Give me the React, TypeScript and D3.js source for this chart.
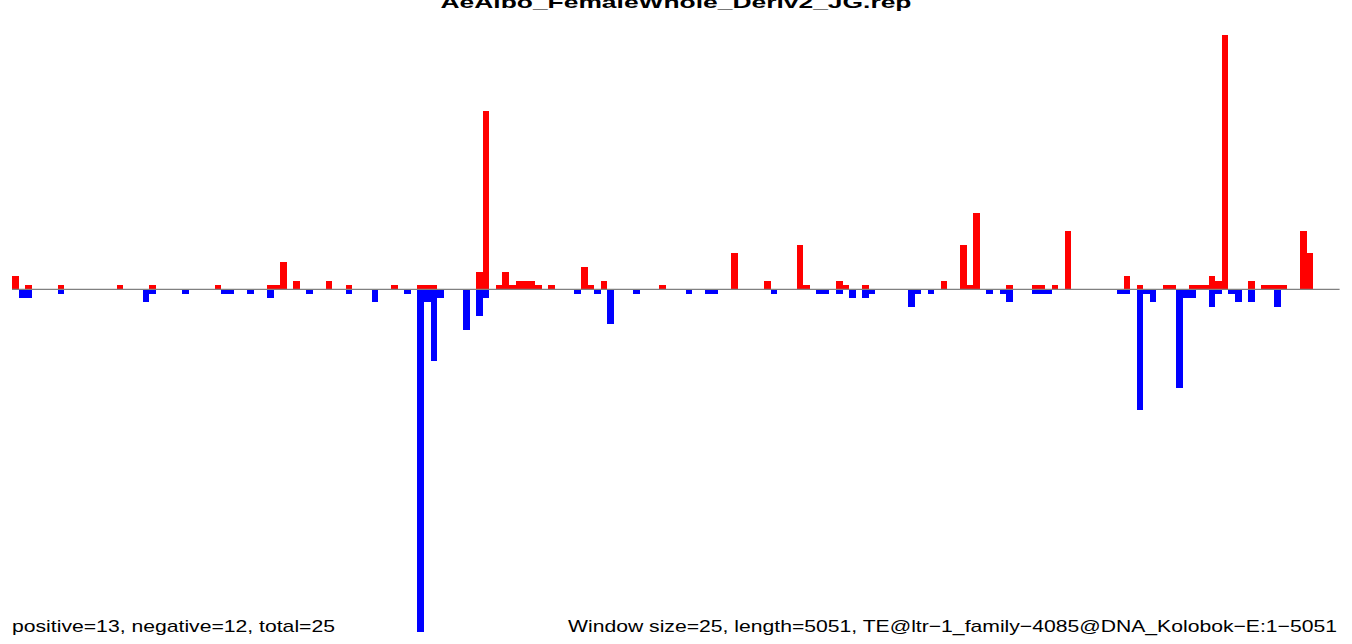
import React from "react";
import * as d3 from "d3";

const title = "AeAlbo_FemaleWhole_Deriv2_JG.rep";
const leftNote = "positive=13, negative=12, total=25";
const rightNote = "Window size=25, length=5051, TE@ltr\u22121_family\u22124085@DNA_Kolobok\u2212E:1\u22125051";

const windowSize = 25;
const seqLength = 5051;

// positive (red) windows: bin index and value
const posBins = [0, 2, 7, 16, 21, 31, 39, 40, 41, 43, 48, 51, 58, 62, 63, 64, 71, 72, 74, 75, 76, 77, 78, 79, 80, 82, 87, 88, 90, 99, 110, 115, 120, 121, 126, 127, 130, 142, 145, 146, 147, 152, 156, 157, 159, 161, 170, 172, 176, 177, 180, 181, 182, 183, 184, 185, 189, 191, 192, 193, 194, 197, 198];
const posVals = [3, 1, 1, 1, 1, 1, 1, 1, 6.2, 2, 2, 1, 1, 1, 1, 1, 4, 40.6, 1, 4, 1, 2, 2, 2, 1, 1, 5, 1, 2, 1, 8.3, 2, 10, 1, 2, 1, 1, 2, 10, 1, 17.3, 1, 1, 1, 1, 13.2, 3, 1, 1, 1, 1, 1, 1, 3, 2, 58, 2, 1, 1, 1, 1, 13.2, 8.2];

// negative (blue) windows: bin index and value (magnitude)
const negBins = [1, 2, 7, 20, 21, 26, 32, 33, 36, 39, 45, 51, 55, 60, 62, 63, 64, 65, 69, 71, 72, 86, 89, 91, 95, 103, 106, 107, 116, 123, 124, 126, 128, 130, 131, 137, 138, 140, 149, 151, 152, 156, 157, 158, 169, 170, 172, 173, 174, 178, 179, 180, 183, 184, 186, 187, 189, 193];
const negVals = [2, 2, 1, 3, 1, 1, 1, 1, 1, 2, 1, 1, 3, 1, 78, 3, 16.4, 2, 9.3, 6, 2, 1, 1, 8, 1, 1, 1, 1, 1, 1, 1, 1, 2, 2, 1, 4, 1, 1, 1, 1, 3, 1, 1, 1, 1, 1, 27.5, 1, 3, 22.5, 2, 2, 4, 1, 1, 3, 3, 4];

const W = 1352;
const H = 644;

export default function App() {
  const nBins = Math.ceil(seqLength / windowSize);
  const x = d3.scaleLinear().domain([0, nBins * windowSize]).range([12, 1339.6]);
  const y = d3.scaleLinear().domain([-78, 58]).range([631.7, 34.7]);
  const y0 = y(0);

  const pos = posBins.map((b, i) => ({ b, v: posVals[i] }));
  const neg = negBins.map((b, i) => ({ b, v: negVals[i] }));

  return (
    <svg
      width={W}
      height={H}
      style={{ position: "fixed", left: 0, top: 0, background: "#fff" }}
      fontFamily="'Liberation Sans', Arial, Helvetica, sans-serif"
    >
      <rect x={0} y={0} width={W} height={H} fill="#fff" />
      <g shapeRendering="crispEdges">
        {pos.map((d) => (
          <rect
            key={"p" + d.b}
            x={x(d.b * windowSize)}
            width={x((d.b + 1) * windowSize) - x(d.b * windowSize)}
            y={y(d.v)}
            height={y0 - y(d.v)}
            fill="#ff0000"
          />
        ))}
        {neg.map((d) => (
          <rect
            key={"n" + d.b}
            x={x(d.b * windowSize)}
            width={x((d.b + 1) * windowSize) - x(d.b * windowSize)}
            y={y0}
            height={y(-d.v) - y0}
            fill="#0000ff"
          />
        ))}
      </g>
      <line x1={x(0)} x2={x(nBins * windowSize)} y1={y0} y2={y0} stroke="#808080" strokeWidth={1.3} />
      <text
        x={676}
        y={7.5}
        textAnchor="middle"
        fontWeight="bold"
        fontSize={17}
        textLength={471}
        lengthAdjust="spacingAndGlyphs"
      >
        {title}
      </text>
      <text x={12} y={632} fontSize={17} textLength={323} lengthAdjust="spacingAndGlyphs">
        {leftNote}
      </text>
      <text
        x={1337}
        y={632}
        fontSize={17}
        textAnchor="end"
        textLength={769}
        lengthAdjust="spacingAndGlyphs"
      >
        {rightNote}
      </text>
    </svg>
  );
}
